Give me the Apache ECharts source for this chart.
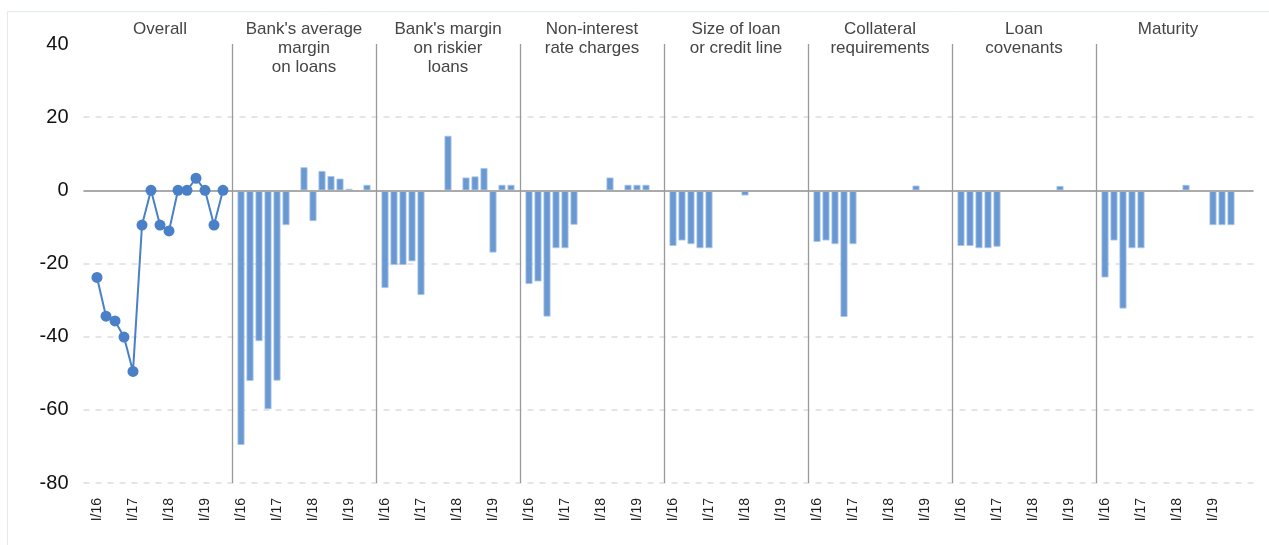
<!DOCTYPE html>
<html>
<head>
<meta charset="utf-8">
<script src="https://cdn.jsdelivr.net/npm/echarts@6/dist/echarts.min.js"></script>
<style>
  html, body { margin: 0; padding: 0; background: #fff; }
  #chart { width: 1269px; height: 545px; }
</style>
</head>
<body>
<div id="chart"></div>
<script>
// quarters shown in every panel
let quarters = ["I/16", "II/16", "III/16", "IV/16", "I/17", "II/17", "III/17", "IV/17",
  "I/18", "II/18", "III/18", "IV/18", "I/19", "II/19", "III/19"];

let panelNames = [
  "Overall",
  "Bank's average\nmargin\non loans",
  "Bank's margin\non riskier\nloans",
  "Non-interest\nrate charges",
  "Size of loan\nor credit line",
  "Collateral\nrequirements",
  "Loan\ncovenants",
  "Maturity"
];

let overall = [-23.8, -34.4, -35.7, -40.1, -49.5, -9.5, 0, -9.5, -11.1, 0, 0, 3.3, 0, -9.5, 0];
let avgMargin = [-69.6, -52.1, -41.2, -59.8, -52.0, -9.5, null, 6.3, -8.4, 5.3, 3.9, 3.2, 0.4, null, 1.5];
let riskierMargin = [-26.7, -20.4, -20.4, -19.4, -28.6, null, null, 14.9, -0.4, 3.5, 3.8, 6.1, -17.0, 1.5, 1.5];
let nonInterest = [-25.6, -24.9, -34.5, -15.8, -15.8, -9.4, null, null, null, 3.5, null, 1.5, 1.5, 1.5, null];
let loanSize = [-15.2, -13.7, -14.7, -15.8, -15.8, null, null, null, -1.4, null, null, null, null, null, null];
let collateral = [-14.1, -13.7, -14.7, -34.6, -14.7, null, null, null, null, null, null, 1.3, null, null, null];
let covenants = [-15.2, -15.2, -15.8, -15.8, -15.4, null, null, null, null, null, null, 1.2, null, null, null];
let maturity = [-23.8, -13.7, -32.3, -15.8, -15.8, null, null, null, null, 1.5, null, null, -9.5, -9.5, -9.5];

let yTicks = [-80, -60, -40, -20, 0, 20, 40];

// build one long category axis: blank, 8 panels of 15 quarters with a gap slot between them, 2 blanks
let barPanels = [avgMargin, riskierMargin, nonInterest, loanSize, collateral, covenants, maturity];
let slotLabels = [""];
let lineData = [null];
let barData = [null];
let separators = [];
let panelMid = [];
for (let p = 0; p < 8; p++) {
  for (let q = 0; q < quarters.length; q++) {
    slotLabels.push(quarters[q]);
    lineData.push(p === 0 ? overall[q] : null);
    barData.push(p === 0 ? null : barPanels[p - 1][q]);
    if (q === 7) panelMid.push(slotLabels.length - 1);
  }
  slotLabels.push("");
  lineData.push(null);
  barData.push(null);
  if (p < 7) separators.push(slotLabels.length - 1);
}
slotLabels.push("");
lineData.push(null);
barData.push(null);

let chart = echarts.init(document.getElementById("chart"));
let font = "'Liberation Sans', Arial, sans-serif";

let markLines = [
  { yAxis: 0, lineStyle: { color: "#aaaaaa", width: 2, type: "solid" } }
];
separators.forEach(function (s) {
  markLines.push({ xAxis: s, lineStyle: { color: "#9a9a9a", width: 1.3, type: "solid" } });
});

let option = {
  animation: false,
  backgroundColor: "#ffffff",
  grid: {
    left: 83.5,
    right: 15.5,
    top: 44,
    bottom: 62
  },
  xAxis: {
    type: "category",
    data: slotLabels.map(function (l, i) { return i + ""; }),
    boundaryGap: true,
    axisLine: { show: false },
    axisTick: { show: false },
    axisLabel: {
      rotate: 90,
      margin: 15,
      fontFamily: font,
      fontSize: 14,
      color: "#222222",
      interval: function (index) {
        return slotLabels[index].indexOf("I/") === 0;
      },
      formatter: function (value, index) {
        return slotLabels[index];
      }
    }
  },
  yAxis: {
    type: "value",
    min: -80,
    max: 40,
    interval: 20,
    axisLine: { show: false },
    axisTick: { show: false },
    axisLabel: {
      margin: 15,
      fontFamily: font,
      fontSize: 20,
      color: "#111111",
      formatter: function (v) {
        return yTicks.indexOf(v) >= 0 ? v + "" : "";
      }
    },
    splitLine: {
      show: true,
      showMaxLine: false,
      lineStyle: { color: "#dddddd", width: 1.5, type: [6, 6] }
    }
  },
  series: [
    {
      name: "Banks",
      type: "bar",
      data: barData,
      barWidth: 7,
      itemStyle: {
        color: "#6a99d2",
        borderColor: "#a9c5e8",
        borderWidth: 0.8
      },
      markLine: {
        silent: true,
        symbol: "none",
        label: { show: false },
        data: markLines
      }
    },
    {
      name: "Overall",
      type: "line",
      data: lineData,
      symbol: "circle",
      symbolSize: 11,
      showAllSymbol: true,
      lineStyle: { color: "#4a80c8", width: 2 },
      itemStyle: { color: "#4a80c8" },
      z: 5
    }
  ]
};
chart.setOption(option);

// panel headings centred over the middle quarter of each panel
let headings = panelNames.map(function (name, i) {
  let x = chart.convertToPixel({ xAxisIndex: 0 }, panelMid[i]);
  return {
    type: "text",
    x: x,
    y: 19.5,
    style: {
      text: name,
      fontFamily: font,
      fontSize: 17,
      lineHeight: 19,
      fill: "#454545",
      align: "center",
      verticalAlign: "top"
    }
  };
});
headings.push({
  type: "rect",
  shape: { x: 7.5, y: 11.5, width: 1300, height: 600 },
  style: { fill: "none", stroke: "#e2ebeb", lineWidth: 1 },
  silent: true
});
chart.setOption({ graphic: headings });
</script>
</body>
</html>
